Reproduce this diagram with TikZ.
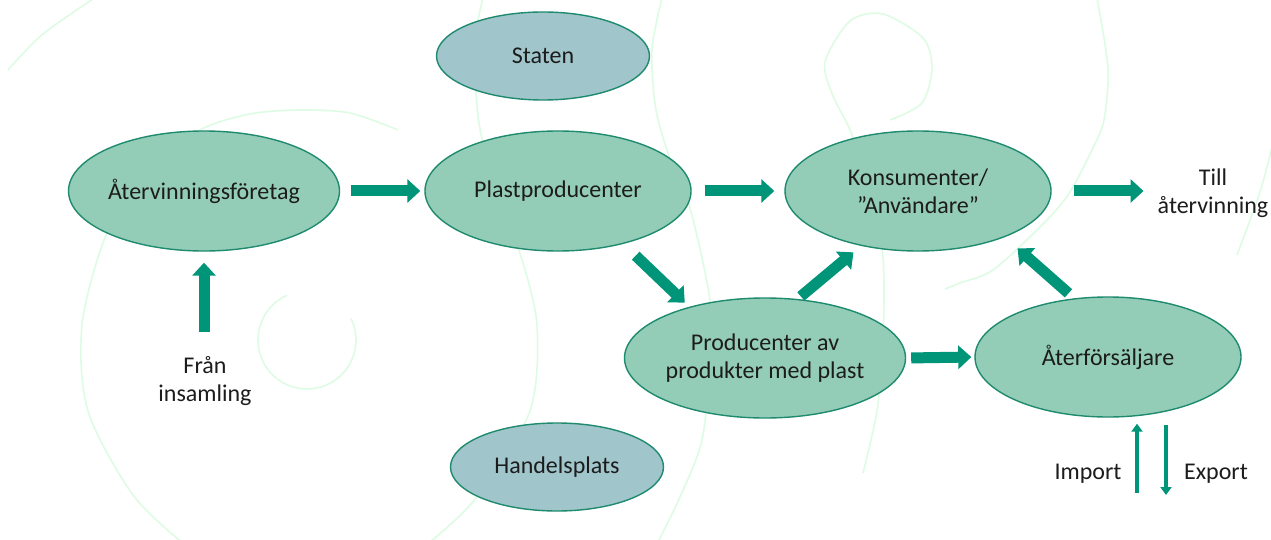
\documentclass[tikz,border=0pt]{standalone}
\usepackage{fontspec}
\setmainfont{Carlito}
\usetikzlibrary{shapes.geometric,arrows.meta}

\definecolor{ovalfill}{RGB}{148,205,183}
\definecolor{ovalline}{RGB}{30,138,110}
\definecolor{govfill}{RGB}{160,197,203}
\definecolor{flow}{RGB}{0,148,121}
\definecolor{swirl}{RGB}{222,251,228}
\definecolor{ink}{RGB}{28,28,28}

\begin{document}
\begin{tikzpicture}[x=1pt,y=-1pt,
  every node/.style={font=\fontsize{24}{28}\selectfont, text=ink},
  actor/.style={ellipse, draw=ovalline, line width=1.4pt, fill=ovalfill,
    minimum width=266pt, minimum height=120pt, inner sep=0pt, align=center},
  sidebox/.style={actor, fill=govfill, minimum width=213pt, minimum height=88pt},
  plaintext/.style={inner sep=0pt, align=center},
  flowarrow/.style={draw=flow, line width=11pt, -{Triangle[length=13pt,width=23pt]}},
  tradearrow/.style={draw=flow, line width=3.5pt, -{Triangle[length=8pt,width=11pt]}},
  swirlline/.style={draw=swirl, line width=1.6pt}
]
\fill[white] (0,0) rectangle (1271,540);
\useasboundingbox (0,0) rectangle (1271,540);

% faint decorative swirls in the background
\begin{scope}
  \clip (0,0) rectangle (1271,540);
  \draw[swirlline] plot[smooth] coordinates {(8,70) (43,34) (96,-3)};
  \draw[swirlline] plot[smooth] coordinates {(398,130) (350,113) (300,110) (250,114)
    (200,130) (150,170) (107,233) (82,325) (88,411) (133,495) (185,545)};
  \draw[swirlline] (307,340) ++(-114:49) arc (-114:-386:49);
  \draw[swirlline] plot[smooth] coordinates {(483,-2) (476,34) (476,90) (481,134)
    (500,200) (520,253) (537,325) (530,411) (477,497) (430,542)};
  \draw[swirlline] plot[smooth] coordinates {(662,-2) (652,50) (656,110) (672,165)
    (690,208) (710,300) (710,360) (702,440) (680,497) (658,542)};
  \draw[swirlline] plot[smooth] coordinates {(890,120) (922,103) (932,68) (923,38)
    (883,14) (850,21) (825,62) (833,96) (850,130) (870,190) (883,257) (883,342)
    (877,411) (863,473)};
  \draw[swirlline] plot[smooth] coordinates {(1097,-2) (1108,68) (1104,120) (1092,150)
    (1068,195) (1040,227) (993,270) (960,283) (945,289)};
  \draw[swirlline] plot[smooth] coordinates {(1275,135) (1260,192) (1237,255)};
\end{scope}

% actors
\node[actor] (recycler) at (204,191) {Återvinningsföretag};
\node[sidebox] (state) at (543,56) {Staten};
\node[actor] (plast) at (558,191) {Plastproducenter};
\node[actor] (consumer) at (918,191) {Konsumenter/\\”Användare”};
\node[actor] (maker) at (765,358) {Producenter av\\produkter med plast};
\node[actor] (retail) at (1108,357) {Återförsäljare};
\node[sidebox] (market) at (557,467) {Handelsplats};

% free-standing labels
\node[plaintext] (collect) at (205,381) {Från\\insamling};
\node[plaintext] (torecycle) at (1213,193) {Till\\återvinning};
\node[plaintext] (import) at (1088,474) {Import};
\node[plaintext] (export) at (1216,474) {Export};
\coordinate (impfoot) at (1137,493);
\coordinate (expfoot) at (1166,495);

% material flows
\draw[flowarrow, shorten <=24pt, shorten >=11pt] (collect.north -| recycler.south) -- (recycler.south);
\draw[flowarrow, shorten <=11pt, shorten >=4pt] (recycler.east) -- (plast.west);
\draw[flowarrow, shorten <=13pt, shorten >=10pt] (plast.east) -- (consumer.west);
\draw[flowarrow, shorten <=22pt, shorten >=14pt] (consumer.east) -- (consumer.east -| torecycle.west);
\draw[flowarrow, shorten <=5pt, shorten >=3pt] (maker.east) -- (retail.west);
\draw[flowarrow, shorten <=17pt, shorten >=6pt] (plast.-39) -- (maker.146);
\draw[flowarrow, shorten <=4pt, shorten >=10pt] (maker.61) -- (consumer.224);
\draw[flowarrow, shorten <=7.5pt, shorten >=17pt] (retail.120) -- (consumer.-28);

% import and export
\draw[tradearrow, shorten >=6pt] (impfoot) -- (impfoot |- retail.south);
\draw[tradearrow, shorten <=7pt] (expfoot |- retail.south) -- (expfoot);
\end{tikzpicture}
\end{document}
